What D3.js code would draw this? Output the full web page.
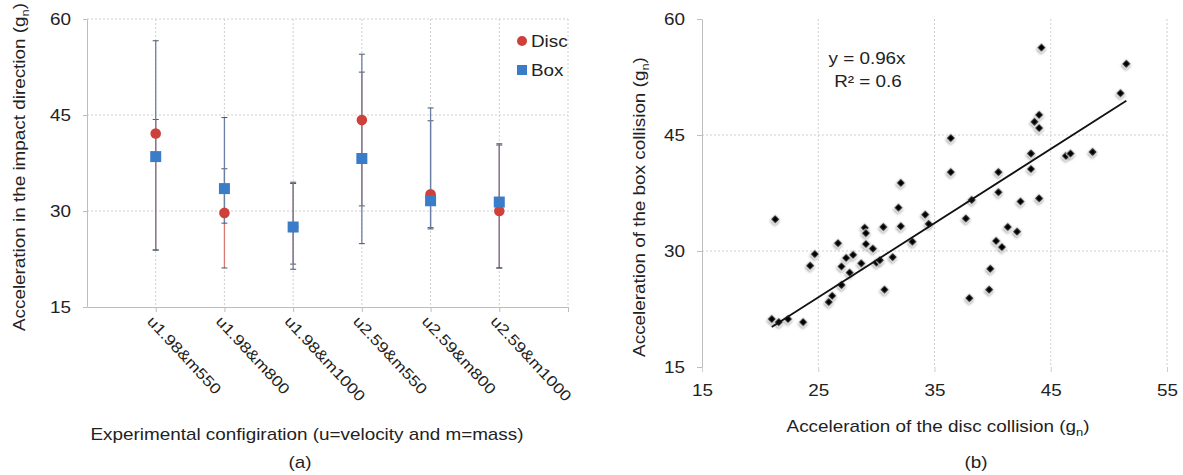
<!DOCTYPE html>
<html>
<head>
<meta charset="utf-8">
<script src="https://cdn.jsdelivr.net/npm/d3@7/dist/d3.min.js"></script>
<style>
	body { margin: 0; background: #fff; }
	text { font-family: "Liberation Sans", Arial, sans-serif; fill: #222; font-size: 16px; }
</style>
</head>
<body>
<svg id="fig" width="1183" height="475"></svg>
<script>
// (a) mean acceleration per configuration with min/max bars
var configs = ["u1.98&m550", "u1.98&m800", "u1.98&m1000", "u2.59&m550", "u2.59&m800", "u2.59&m1000"];
var discMean = [42.1, 29.7, 27.5, 44.2, 32.6, 30.0];
var discLow  = [23.9, 21.1, 21.7, 30.8, 27.4, 21.1];
var discHigh = [44.3, 36.6, 34.3, 51.7, 44.1, 40.3];
var boxMean  = [38.5, 33.5, 27.5, 38.2, 31.6, 31.4];
var boxLow   = [23.9, 28.1, 20.9, 24.9, 27.2, 21.1];
var boxHigh  = [56.6, 44.6, 34.5, 54.5, 46.1, 40.5];
var yTicks = [15, 30, 45, 60];

// (b) disc vs box, one point per test
var discAcc = [44.2, 51.5, 51.0, 44.0, 43.6, 44.0, 36.4, 43.3, 46.3, 46.7, 48.6, 36.4, 40.5, 43.3, 32.1,
	40.5, 38.2, 42.4, 44.0, 31.9, 34.2, 21.3, 37.7, 34.5, 29.0, 29.1, 30.6, 32.1, 41.3, 42.1,
	26.7, 29.1, 33.1, 40.3, 40.8, 29.7, 24.7, 24.3, 27.4, 28.0, 27.0, 27.7, 28.7, 30.0, 30.3,
	31.4, 27.0, 26.2, 25.9, 30.7, 39.8, 39.7, 38.0, 21.0, 21.6, 22.4, 23.7];
var boxAcc = [56.3, 54.2, 50.4, 47.6, 46.7, 45.9, 44.6, 42.6, 42.3, 42.6, 42.8, 40.2, 40.2, 40.6, 38.8,
	37.6, 36.6, 36.4, 36.8, 35.6, 34.7, 34.1, 34.2, 33.5, 33.0, 32.3, 33.1, 33.2, 33.1, 32.5,
	31.0, 30.9, 31.2, 31.3, 30.5, 30.3, 29.6, 28.1, 29.1, 29.5, 28.0, 27.2, 28.4, 28.5, 28.8,
	29.2, 25.6, 24.2, 23.4, 25.0, 27.7, 25.0, 23.9, 21.2, 20.8, 21.2, 20.8];
var trendX = [21.0, 51.5];
var trendSlope = 0.96;
var xTicksB = [15, 25, 35, 45, 55];

var SX = 1.18;          // the source text is drawn wide
var gridColor = "#cfcfcf";
var axisColor = "#bdbdbd";

var svg = d3.select("#fig");

svg.append("defs").append("filter").attr("id", "shadow")
	.attr("x", "-60%").attr("y", "-60%").attr("width", "220%").attr("height", "220%")
	.append("feDropShadow").attr("dx", 1).attr("dy", 1.5).attr("stdDeviation", 1)
	.attr("flood-color", "#000").attr("flood-opacity", 0.35);

var wide = function (sel, x, y, rot) {
	sel.attr("x", 0).attr("y", 0)
		.attr("transform", "translate(" + x + "," + y + ") rotate(" + (rot || 0) + ") scale(" + SX + ",1)");
};

var gnLabel = function (sel, str) {
	sel.append("tspan").text(str + " (g");
	sel.append("tspan").text("n").style("font-size", "11px").attr("dy", 4);
	sel.append("tspan").text(")").attr("dy", -4);
};

var styleAxis = function (g) {
	g.select(".domain").attr("stroke", axisColor);
	g.selectAll(".tick line").attr("stroke", axisColor);
	g.selectAll(".tick text").style("font-size", "16px").attr("fill", "#222");
};

/* ---------- (a) ---------- */
var xA = d3.scaleLinear().domain([0, 7]).range([87, 568]);
var yA = d3.scaleLinear().domain([15, 60]).range([307, 19]);
var cats = d3.range(1, 8);

var gA = svg.append("g");

gA.selectAll("line.hgrid").data(yTicks.slice(1)).enter().append("line")
	.attr("x1", xA(0)).attr("x2", xA(7))
	.attr("y1", function (d) { return yA(d); }).attr("y2", function (d) { return yA(d); })
	.attr("stroke", gridColor).attr("stroke-dasharray", "2,2");

gA.selectAll("line.vgrid").data(cats).enter().append("line")
	.attr("x1", function (d) { return xA(d); }).attr("x2", function (d) { return xA(d); })
	.attr("y1", yA(60)).attr("y2", yA(15))
	.attr("stroke", gridColor).attr("stroke-dasharray", "2,2");

var yAxisA = gA.append("g").attr("transform", "translate(" + xA(0) + ",0)")
	.call(d3.axisLeft(yA).tickValues(yTicks).tickSize(4).tickSizeOuter(0));
styleAxis(yAxisA);
yAxisA.selectAll(".tick text").attr("text-anchor", "end").attr("dy", "0.35em")
	.each(function () { wide(d3.select(this), -16, 0); });

var xAxisA = gA.append("g").attr("transform", "translate(0," + yA(15) + ")")
	.call(d3.axisBottom(xA).tickValues(cats).tickSize(5).tickSizeOuter(0)
		.tickFormat(function (d) { return configs[d - 1] || ""; }));
styleAxis(xAxisA);
xAxisA.selectAll(".tick text").attr("text-anchor", "start").attr("dy", 0)
	.style("font-size", "15px")
	.each(function () { wide(d3.select(this), -10, 15, 47); });

var errBars = function (low, high, color) {
	var g = gA.append("g");
	configs.forEach(function (c, i) {
		var x = xA(i + 1);
		g.append("line").attr("x1", x).attr("x2", x)
			.attr("y1", yA(low[i])).attr("y2", yA(high[i]))
			.attr("stroke", color).attr("stroke-width", 1.3);
		[low[i], high[i]].forEach(function (v) {
			g.append("line").attr("x1", x - 3).attr("x2", x + 3)
				.attr("y1", yA(v)).attr("y2", yA(v))
				.attr("stroke", "#4d5566").attr("stroke-width", 1);
		});
	});
};
errBars(discLow, discHigh, "#d87a72");
errBars(boxLow, boxHigh, "#6a7fa4");

gA.selectAll("circle.disc").data(discMean).enter().append("circle")
	.attr("cx", function (d, i) { return xA(i + 1); })
	.attr("cy", function (d) { return yA(d); })
	.attr("r", 5.3).attr("fill", "#d0403b");

gA.selectAll("rect.box").data(boxMean).enter().append("rect")
	.attr("x", function (d, i) { return xA(i + 1) - 5.5; })
	.attr("y", function (d) { return yA(d) - 5.5; })
	.attr("width", 11).attr("height", 11).attr("fill", "#3b7cc8");

// legend
gA.append("circle").attr("cx", 522).attr("cy", 41).attr("r", 5).attr("fill", "#d0403b");
gA.append("text").text("Disc").call(wide, 531, 47);
gA.append("rect").attr("x", 517).attr("y", 65).attr("width", 10).attr("height", 10).attr("fill", "#3b7cc8");
gA.append("text").text("Box").call(wide, 531, 76);

var yTitleA = gA.append("text").attr("text-anchor", "middle");
gnLabel(yTitleA, "Acceleration in the impact direction");
wide(yTitleA, 25, 167, -90);

gA.append("text").attr("text-anchor", "middle")
	.text("Experimental configiration (u=velocity and m=mass)").call(wide, 307, 440);
gA.append("text").attr("text-anchor", "middle").text("(a)").call(wide, 300, 468);

/* ---------- (b) ---------- */
var xB = d3.scaleLinear().domain([15, 55]).range([702, 1167]);
var yB = d3.scaleLinear().domain([15, 60]).range([367, 19]);

var gB = svg.append("g");

gB.selectAll("line.hgrid").data([30, 45]).enter().append("line")
	.attr("x1", xB(15)).attr("x2", xB(55))
	.attr("y1", function (d) { return yB(d); }).attr("y2", function (d) { return yB(d); })
	.attr("stroke", gridColor).attr("stroke-dasharray", "2,2");

gB.selectAll("line.vgrid").data(xTicksB.slice(1)).enter().append("line")
	.attr("x1", function (d) { return xB(d); }).attr("x2", function (d) { return xB(d); })
	.attr("y1", yB(60)).attr("y2", yB(15))
	.attr("stroke", gridColor).attr("stroke-dasharray", "2,2");

var yAxisB = gB.append("g").attr("transform", "translate(" + xB(15) + ",0)")
	.call(d3.axisLeft(yB).tickValues(yTicks).tickSize(5).tickSizeOuter(0));
styleAxis(yAxisB);
yAxisB.selectAll(".tick text").attr("text-anchor", "end").attr("dy", "0.35em")
	.each(function () { wide(d3.select(this), -17, 0); });

var xAxisB = gB.append("g").attr("transform", "translate(0," + yB(15) + ")")
	.call(d3.axisBottom(xB).tickValues(xTicksB).tickSize(5).tickSizeOuter(0));
styleAxis(xAxisB);
xAxisB.select(".domain").remove();
xAxisB.selectAll(".tick line").attr("stroke", gridColor);
xAxisB.selectAll(".tick text").attr("text-anchor", "middle").attr("dy", 0)
	.each(function () { wide(d3.select(this), 0, 29); });

gB.selectAll("path.pt").data(discAcc).enter().append("path")
	.attr("d", d3.symbol().type(d3.symbolSquare).size(42))
	.attr("transform", function (d, i) { return "translate(" + xB(d) + "," + yB(boxAcc[i]) + ") rotate(45)"; })
	.attr("fill", "#000").attr("stroke", "#fff").attr("stroke-width", 0.8)
	.attr("filter", "url(#shadow)");

gB.append("line")
	.attr("x1", xB(trendX[0])).attr("y1", yB(trendX[0] * trendSlope))
	.attr("x2", xB(trendX[1])).attr("y2", yB(trendX[1] * trendSlope))
	.attr("stroke", "#111").attr("stroke-width", 1.8);

gB.append("text").attr("text-anchor", "middle").text("y = 0.96x").call(wide, 867, 64);
gB.append("text").attr("text-anchor", "middle").text("R\u00b2 = 0.6").call(wide, 868, 87);

var yTitleB = gB.append("text").attr("text-anchor", "middle");
gnLabel(yTitleB, "Acceleration of the box collision");
wide(yTitleB, 645, 207, -90);

var xTitleB = gB.append("text").attr("text-anchor", "middle");
gnLabel(xTitleB, "Acceleration of the disc collision");
wide(xTitleB, 938, 432);

gB.append("text").attr("text-anchor", "middle").text("(b)").call(wide, 976, 468);
</script>
</body>
</html>
